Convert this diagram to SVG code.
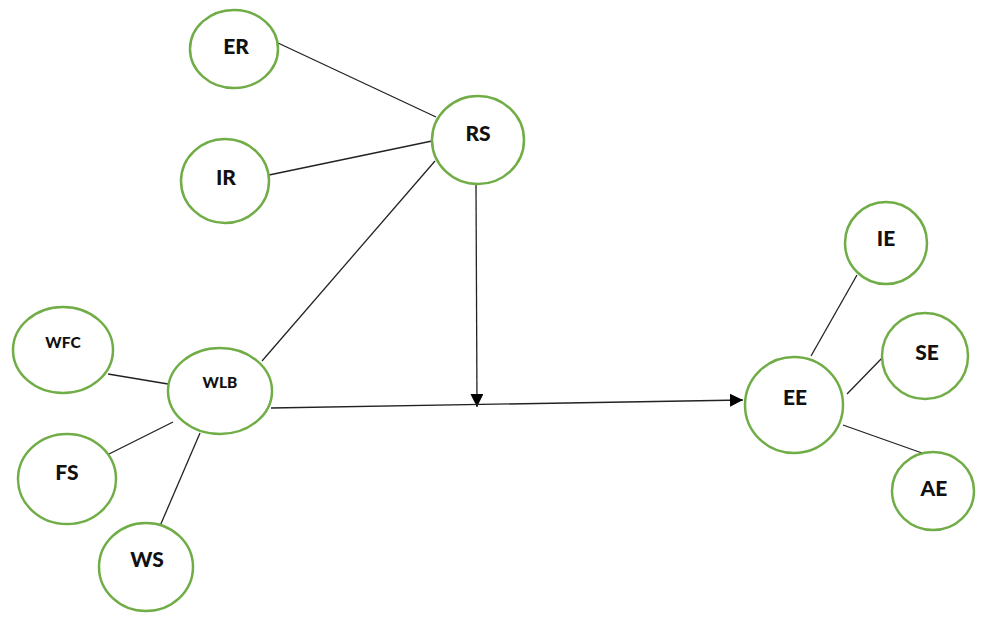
<svg xmlns="http://www.w3.org/2000/svg" width="988" height="623" viewBox="0 0 988 623">
<style>
.node ellipse{fill:#fff;stroke:#70AD47;stroke-width:2.5}
.node text{font-family:Lato,"Open Sans","Liberation Sans",sans-serif;font-weight:900;font-size:21px;fill:#111;text-anchor:middle}
.node text.sm{font-size:15.5px}
.edges line{stroke:#222;stroke-width:1.3}
</style>
<defs>
<marker id="arr" viewBox="0 0 13 13" refX="13" refY="6.5" markerWidth="13" markerHeight="13" markerUnits="userSpaceOnUse" orient="auto">
<path d="M0,0 L13,6.5 L0,13 Z" fill="#000"/>
</marker>
</defs>
<rect width="988" height="623" fill="#fff"/>
<g class="edges">
<line x1="278" y1="43" x2="436" y2="117"/>
<line x1="269" y1="175" x2="432" y2="141"/>
<line x1="262" y1="361" x2="435" y2="161"/>
<line x1="108" y1="374" x2="168" y2="384"/>
<line x1="107" y1="455" x2="173" y2="422"/>
<line x1="160" y1="526" x2="200" y2="433"/>
<line x1="476" y1="184" x2="477" y2="407" marker-end="url(#arr)"/>
<line x1="271" y1="408" x2="743" y2="400" marker-end="url(#arr)"/>
<line x1="811" y1="356" x2="857" y2="275"/>
<line x1="847" y1="394" x2="883" y2="357"/>
<line x1="843" y1="425" x2="922" y2="453"/>
</g>
<g id="ER" class="node"><ellipse cx="234" cy="49" rx="44" ry="39"/><text x="236" y="54">ER</text></g>
<g id="IR" class="node"><ellipse cx="225" cy="181" rx="44" ry="42"/><text x="226" y="185">IR</text></g>
<g id="RS" class="node"><ellipse cx="478" cy="140" rx="46" ry="44"/><text x="478" y="141">RS</text></g>
<g id="WFC" class="node"><ellipse cx="63" cy="350" rx="50" ry="43"/><text class="sm" x="63" y="348">WFC</text></g>
<g id="WLB" class="node"><ellipse cx="220" cy="391" rx="52" ry="43"/><text class="sm" x="220" y="388">WLB</text></g>
<g id="FS" class="node"><ellipse cx="67" cy="479" rx="49" ry="45"/><text x="67" y="480">FS</text></g>
<g id="WS" class="node"><ellipse cx="146" cy="567" rx="47" ry="44"/><text x="147" y="567">WS</text></g>
<g id="IE" class="node"><ellipse cx="886" cy="243" rx="41" ry="41"/><text x="886" y="246">IE</text></g>
<g id="SE" class="node"><ellipse cx="925" cy="356" rx="43" ry="43"/><text x="927" y="360">SE</text></g>
<g id="EE" class="node"><ellipse cx="794" cy="405" rx="49" ry="48"/><text x="795" y="405">EE</text></g>
<g id="AE" class="node"><ellipse cx="933" cy="491" rx="41" ry="39"/><text x="934" y="496">AE</text></g>
</svg>
